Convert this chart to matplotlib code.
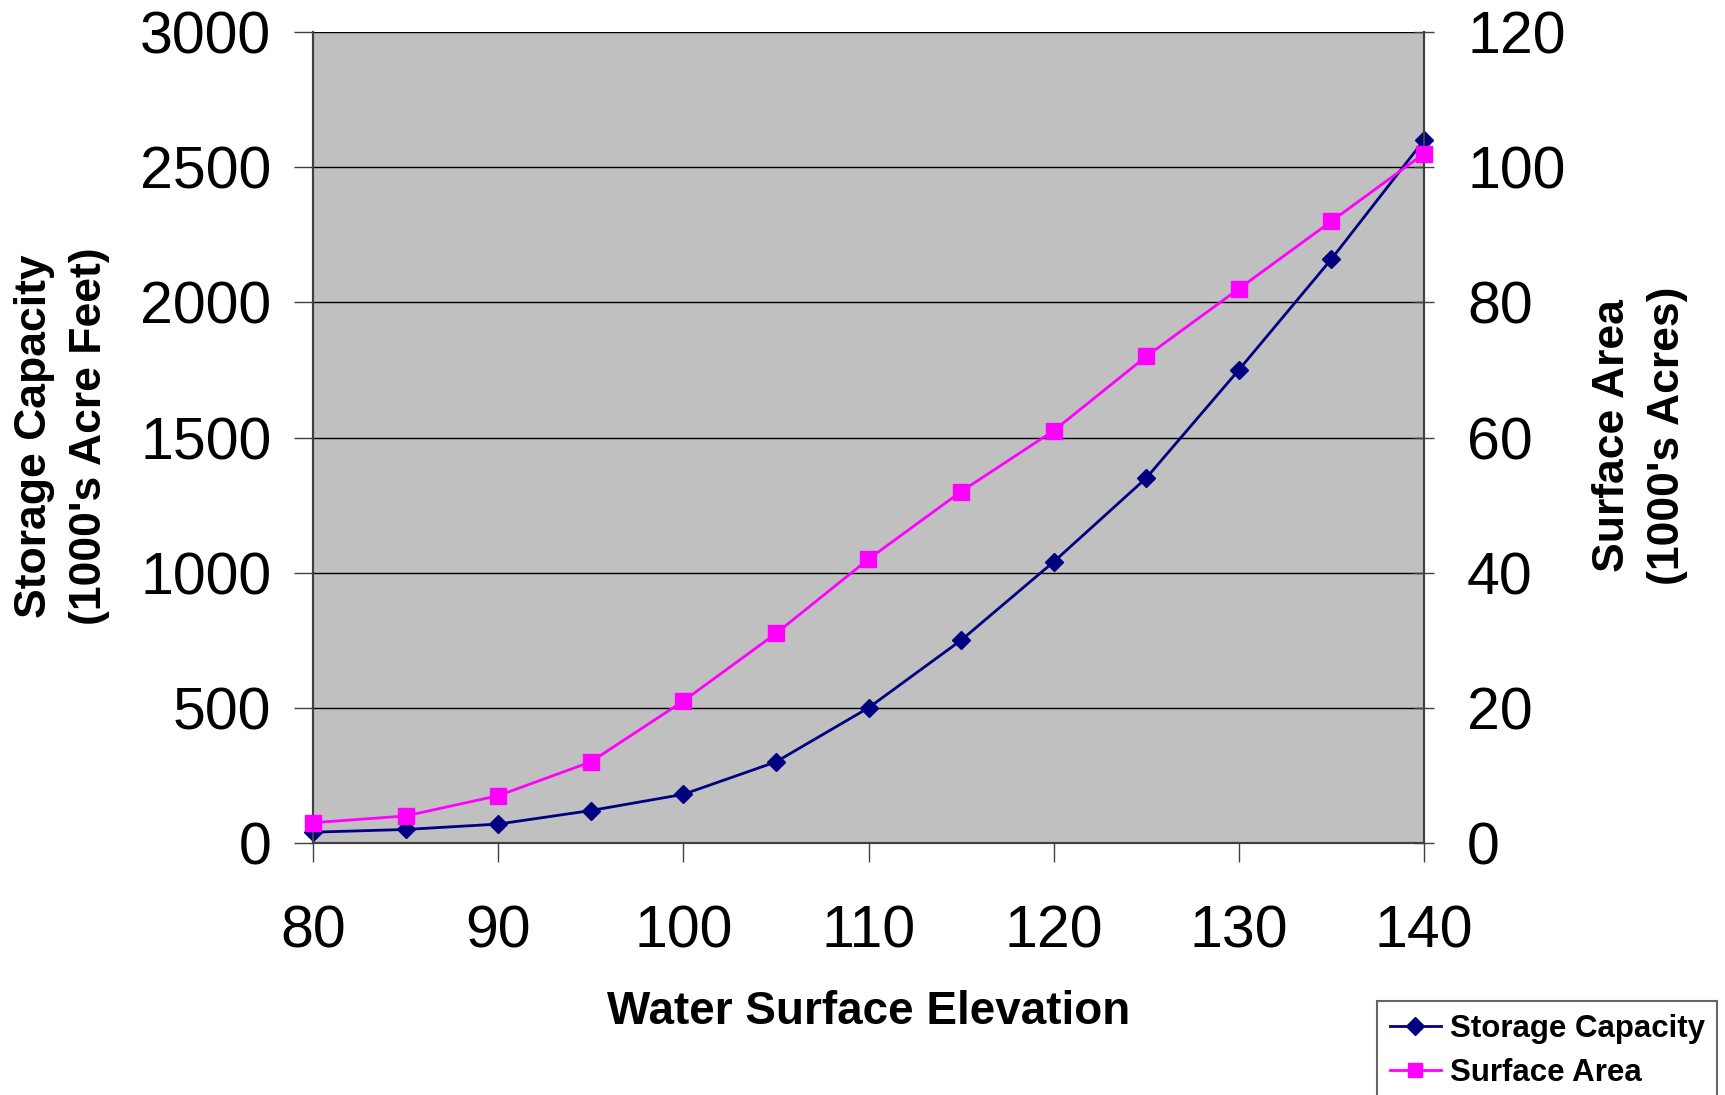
import matplotlib
matplotlib.use("Agg")
import matplotlib.pyplot as plt
from matplotlib.lines import Line2D

plt.rcParams['font.family'] = ['Liberation Sans', 'DejaVu Sans']

elev = [80, 85, 90, 95, 100, 105, 110, 115, 120, 125, 130, 135, 140]
storage = [40, 50, 70, 120, 180, 300, 500, 750, 1040, 1350, 1750, 2160, 2600]
area = [3, 4, 7, 12, 21, 31, 42, 52, 61, 72, 82, 92, 102]

left_ticks = [0, 500, 1000, 1500, 2000, 2500, 3000]
right_ticks = [0, 20, 40, 60, 80, 100, 120]
x_ticks = [80, 90, 100, 110, 120, 130, 140]

navy = '#000080'
pink = '#FF00FF'

fig = plt.figure(figsize=(17.25, 10.95), dpi=100)
ax = fig.add_axes([313/1725, 1-843/1095, (1424-313)/1725, (843-32)/1095])
ax.set_facecolor('#C0C0C0')
ax2 = ax.twinx()

ax.plot(elev, storage, color=navy, lw=2, marker='D', ms=9, zorder=3, clip_on=False)
ax2.plot(elev, area, color=pink, lw=2, marker='s', ms=11, zorder=3, clip_on=False)

ax.set_xlim(80, 140)
ax.set_ylim(0, 3000)
ax2.set_ylim(0, 120)
ax.set_xticks(x_ticks)
ax.set_yticks(left_ticks)
ax2.set_yticks(right_ticks)
ax.yaxis.grid(True, color='black', lw=1)
ax.set_axisbelow(True)

ax.tick_params(axis='both', labelsize=42.5, length=14, width=1, color='#404040')
ax.tick_params(axis='x', pad=30)
ax.tick_params(axis='y', pad=16)
ax2.tick_params(axis='y', labelsize=42.5, length=14, width=1, direction='inout', color='#404040', pad=24)

for a in (ax, ax2):
    a.spines['top'].set_visible(False)
    for s in ('left', 'right', 'bottom'):
        a.spines[s].set_color('#404040')
        a.spines[s].set_linewidth(1.5)

fig.text(313/1725 + (1424-313)/1725/2, 1-1012/1095, 'Water Surface Elevation',
         ha='center', va='center', fontsize=33, fontweight='bold')
fig.text(62/1725, 1-436/1095, "Storage Capacity\n(1000's Acre Feet)", rotation=90,
         ha='center', va='center', fontsize=32, fontweight='bold', linespacing=1.45)
fig.text(1640/1725, 1-436/1095, "Surface Area\n(1000's Acres)", rotation=90,
         ha='center', va='center', fontsize=32, fontweight='bold', linespacing=1.45)

handles = [Line2D([], [], color=navy, lw=2, marker='D', ms=9),
           Line2D([], [], color=pink, lw=2, marker='s', ms=10)]
leg = fig.legend(handles, ['Storage Capacity', 'Surface Area'],
                 loc='upper left', bbox_to_anchor=(1377/1725, 1-1001/1095),
                 prop={'size': 22.5, 'weight': 'bold'}, frameon=True, fancybox=False,
                 edgecolor='#404040', handlelength=1.65, handletextpad=0.28,
                 borderaxespad=0, labelspacing=0.45, borderpad=0.4)
leg.get_frame().set_linewidth(1.5)

fig.savefig('out.png', dpi=100)
